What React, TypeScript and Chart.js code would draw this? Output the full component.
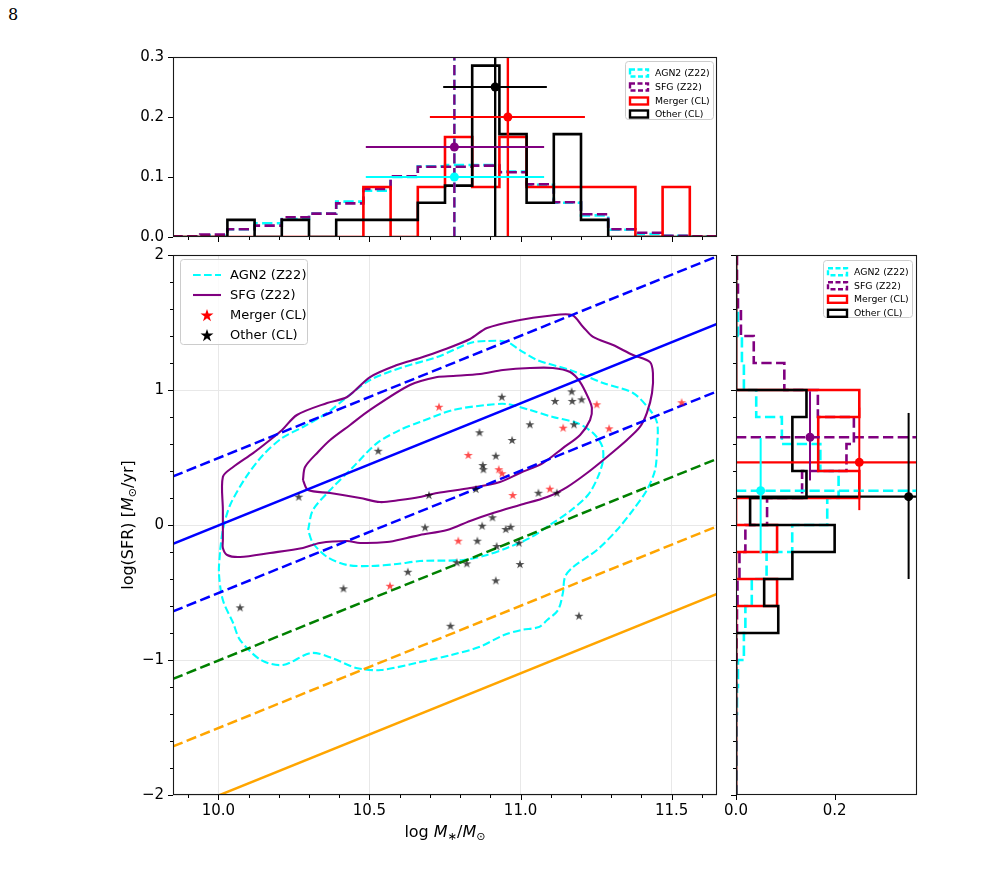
import React, { useEffect, useRef } from 'react';
import { Chart, registerables } from 'chart.js';
Chart.register(...registerables);

const FONT = '"DejaVu Sans", sans-serif';

// ---------- axes / ticks ----------
const massRange = [9.85, 11.65];
const sfrRange = [-2, 2];
const topFracRange = [0, 0.3];
const rightFracRange = [0, 0.367];
const massTicks = [10.0, 10.5, 11.0, 11.5];
const massTickLabels = ['10.0', '10.5', '11.0', '11.5'];
const massMinorTicks = [9.9, 10.1, 10.2, 10.3, 10.4, 10.6, 10.7, 10.8, 10.9, 11.1, 11.2, 11.3, 11.4, 11.6];
const sfrTicks = [-2, -1, 0, 1, 2];
const sfrTickLabels = ['\u22122', '\u22121', '0', '1', '2'];
const sfrMinorTicks = [-1.8, -1.6, -1.4, -1.2, -0.8, -0.6, -0.4, -0.2, 0.2, 0.4, 0.6, 0.8, 1.2, 1.4, 1.6, 1.8];
const topFracTicks = [0, 0.1, 0.2, 0.3];
const topFracTickLabels = ['0.0', '0.1', '0.2', '0.3'];
const rightFracTicks = [0, 0.2];
const rightFracTickLabels = ['0.0', '0.2'];

const seriesLabels = ['AGN2 (Z22)', 'SFG (Z22)', 'Merger (CL)', 'Other (CL)'];

// ---------- histograms ----------
const massBinEdges = [9.85, 9.94, 10.03, 10.12, 10.21, 10.3, 10.39, 10.48, 10.57, 10.66, 10.75, 10.84, 10.93, 11.02, 11.11, 11.2, 11.29, 11.38, 11.47, 11.56, 11.65];
const agnMassHist = [0.0005, 0.003, 0.013, 0.023, 0.03, 0.039, 0.059, 0.077, 0.1, 0.118, 0.12, 0.12, 0.109, 0.087, 0.057, 0.036, 0.012, 0.005, 0.002, 0.001];
const sfgMassHist = [0.001, 0.004, 0.013, 0.019, 0.033, 0.039, 0.056, 0.08, 0.101, 0.117, 0.117, 0.119, 0.108, 0.088, 0.058, 0.038, 0.013, 0.007, 0.002, 0.001];
const mergerMassHist = [0, 0, 0, 0, 0, 0, 0, 0.0833, 0, 0.0833, 0.1667, 0.0833, 0.1667, 0.0833, 0.0833, 0.0833, 0.0833, 0, 0.0833, 0];
const otherMassHist = [0, 0, 0.0286, 0, 0.0286, 0, 0.0286, 0.0286, 0.0286, 0.0571, 0.0857, 0.2857, 0.1714, 0.0571, 0.1714, 0.0286, 0, 0, 0, 0];

const sfrBinEdges = [-2.0, -1.8, -1.6, -1.4, -1.2, -1.0, -0.8, -0.6, -0.4, -0.2, 0.0, 0.2, 0.4, 0.6, 0.8, 1.0, 1.2, 1.4, 1.6, 1.8, 2.0];
const agnSfrHist = [0.001, 0.001, 0.001, 0.002, 0.004, 0.016, 0.019, 0.032, 0.062, 0.114, 0.185, 0.208, 0.171, 0.093, 0.041, 0.016, 0.012, 0.004, 0.002, 0.001];
const sfgSfrHist = [0, 0, 0, 0, 0, 0.001, 0.002, 0.003, 0.007, 0.019, 0.063, 0.134, 0.224, 0.239, 0.166, 0.098, 0.036, 0.01, 0.004, 0.002];
const mergerSfrHist = [0, 0, 0, 0, 0, 0, 0, 0.0833, 0, 0.0833, 0, 0.25, 0.1667, 0.1667, 0.25, 0, 0, 0, 0, 0];
const otherSfrHist = [0, 0, 0, 0, 0, 0, 0.0857, 0.0571, 0.1143, 0.2, 0.0286, 0.1429, 0.1143, 0.1143, 0.1429, 0, 0, 0, 0, 0];

// medians and ranges (AGN2, SFG, Merger, Other)
const massMedians = [10.781, 10.781, 10.958, 10.916];
const massLow = [10.488, 10.488, 10.70, 10.744];
const massHigh = [11.078, 11.078, 11.213, 11.087];
const topMarkerLevels = [0.1, 0.15, 0.2, 0.25];
const sfrMedians = [0.254, 0.65, 0.464, 0.21];
const sfrLow = [-0.21, 0.33, 0.11, -0.40];
const sfrHigh = [0.645, 0.99, 0.87, 0.83];
const rightMarkerLevels = [0.05, 0.15, 0.25, 0.35];

// ---------- scatter ----------
const mergerMass = [10.730, 11.252, 11.141, 11.293, 10.827, 10.928, 10.939, 10.974, 11.097, 10.794, 10.568, 11.533];
const mergerSfr = [0.876, 0.894, 0.721, 0.716, 0.519, 0.413, 0.383, 0.222, 0.269, -0.116, -0.450, 0.909];
const otherMass = [10.938, 11.169, 11.114, 11.171, 11.202, 11.031, 11.177, 10.864, 10.972, 10.918, 10.875, 10.877, 10.697, 10.852, 11.059, 11.120, 10.684, 10.873, 10.907, 10.951, 10.967, 10.857, 10.921, 10.995, 10.789, 10.822, 10.998, 10.918, 10.529, 10.266, 10.627, 10.414, 10.072, 11.193, 10.768];
const otherSfr = [0.950, 0.99, 0.919, 0.919, 0.931, 0.746, 0.746, 0.687, 0.630, 0.513, 0.444, 0.413, 0.222, 0.267, 0.239, 0.239, -0.017, -0.005, 0.057, -0.030, -0.013, -0.116, -0.156, -0.131, -0.276, -0.284, -0.289, -0.41, 0.550, 0.210, -0.346, -0.469, -0.610, -0.672, -0.746];

// ---------- contours ----------
const sfgOuterMass = [10.015, 10.015, 10.015, 10.049, 10.115, 10.171, 10.211, 10.260, 10.360, 10.426, 10.502, 10.591, 10.667, 10.743, 10.833, 10.889, 10.998, 11.088, 11.170, 11.207, 11.240, 11.306, 11.372, 11.428, 11.438, 11.435, 11.418, 11.395, 11.352, 11.286, 11.220, 11.154, 11.088, 10.998, 10.909, 10.833, 10.757, 10.667, 10.624, 10.558, 10.469, 10.426, 10.336, 10.280, 10.171, 10.072, 10.029, 10.015, 10.015];
const sfgOuterSfr = [-0.111, 0.111, 0.356, 0.430, 0.533, 0.630, 0.704, 0.815, 0.904, 0.948, 1.096, 1.185, 1.237, 1.296, 1.378, 1.459, 1.519, 1.548, 1.556, 1.467, 1.393, 1.333, 1.259, 1.207, 1.126, 0.978, 0.830, 0.726, 0.630, 0.504, 0.385, 0.281, 0.207, 0.148, 0.089, 0.030, -0.037, -0.074, -0.096, -0.126, -0.133, -0.119, -0.133, -0.170, -0.207, -0.237, -0.222, -0.170, -0.111];
const sfgInnerMass = [10.280, 10.287, 10.330, 10.370, 10.436, 10.502, 10.634, 10.724, 10.777, 10.866, 10.942, 11.031, 11.107, 11.164, 11.197, 11.223, 11.236, 11.230, 11.197, 11.140, 11.074, 10.998, 10.932, 10.833, 10.724, 10.667, 10.601, 10.535, 10.469, 10.370, 10.297, 10.280];
const sfgInnerSfr = [0.333, 0.430, 0.541, 0.630, 0.741, 0.852, 1.037, 1.096, 1.104, 1.119, 1.148, 1.163, 1.163, 1.133, 1.059, 0.948, 0.867, 0.778, 0.667, 0.570, 0.459, 0.385, 0.319, 0.274, 0.237, 0.207, 0.185, 0.170, 0.200, 0.237, 0.259, 0.333];
const agnOuterMass = [10.006, 10.015, 10.039, 10.092, 10.148, 10.211, 10.280, 10.360, 10.426, 10.502, 10.611, 10.724, 10.833, 10.889, 10.955, 10.998, 11.055, 11.164, 11.273, 11.372, 11.428, 11.452, 11.452, 11.445, 11.418, 11.372, 11.319, 11.253, 11.174, 11.147, 11.140, 11.124, 11.088, 11.061, 11.002, 10.945, 10.863, 10.770, 10.654, 10.538, 10.456, 10.376, 10.307, 10.214, 10.141, 10.072, 10.049, 10.015, 10.002, 10.006];
const agnOuterSfr = [-0.185, -0.037, 0.148, 0.356, 0.519, 0.644, 0.726, 0.830, 0.948, 1.074, 1.170, 1.244, 1.348, 1.363, 1.356, 1.296, 1.222, 1.148, 1.052, 0.978, 0.852, 0.756, 0.578, 0.407, 0.259, 0.111, -0.037, -0.185, -0.311, -0.385, -0.504, -0.630, -0.704, -0.756, -0.778, -0.815, -0.904, -0.963, -1.022, -1.074, -1.059, -0.985, -0.948, -1.037, -1.000, -0.852, -0.726, -0.556, -0.356, -0.185];
const agnInnerMass = [10.297, 10.313, 10.370, 10.446, 10.525, 10.601, 10.667, 10.777, 10.889, 10.955, 11.031, 11.107, 11.187, 11.240, 11.270, 11.273, 11.256, 11.223, 11.164, 11.097, 11.031, 10.955, 10.889, 10.810, 10.667, 10.591, 10.502, 10.426, 10.360, 10.313, 10.297];
const agnInnerSfr = [-0.037, 0.111, 0.259, 0.430, 0.607, 0.704, 0.763, 0.852, 0.889, 0.896, 0.852, 0.800, 0.756, 0.681, 0.585, 0.481, 0.356, 0.222, 0.104, 0.000, -0.096, -0.170, -0.222, -0.259, -0.267, -0.289, -0.304, -0.296, -0.237, -0.133, -0.037];

// ---------- reference lines (values at the two mass limits) ----------
const lineMassEnds = [9.85, 11.65];
const msSfr = [-0.14, 1.49];
const msUpperSfr = [0.36, 1.99];
const msLowerSfr = [-0.64, 0.99];
const greenSfr = [-1.14, 0.49];
const orangeDashSfr = [-1.64, -0.01];
const orangeSolidSfr = [-2.14, -0.51];

const CYAN = '#00ffff', PURPLE = '#800080', RED = '#ff0000', BLACK = '#000000';
const seriesColors = [CYAN, PURPLE, RED, BLACK];
const seriesDash = [[10.3, 4.4], [10.3, 4.4], [], []];

const pts = (xs: number[], ys: number[]) => xs.map((x, i) => ({ x, y: ys[i] }));

function stepTop(edges: number[], vals: number[]) {
  const out = [{ x: edges[0], y: 0 }];
  vals.forEach((v, i) => { out.push({ x: edges[i], y: v }); out.push({ x: edges[i + 1], y: v }); });
  out.push({ x: edges[edges.length - 1], y: 0 });
  return out;
}
function stepRight(edges: number[], vals: number[]) {
  const out = [{ x: 0, y: edges[0] }];
  vals.forEach((v, i) => { out.push({ x: v, y: edges[i] }); out.push({ x: v, y: edges[i + 1] }); });
  out.push({ x: 0, y: edges[edges.length - 1] });
  return out;
}

function makeStar(color: string, outer: number) {
  const inner = outer * 0.382;
  const size = Math.ceil(outer * 2 + 2);
  const c = document.createElement('canvas');
  c.width = size; c.height = size;
  const g = c.getContext('2d')!;
  const cx = size / 2, cy = size / 2 + outer * 0.1;
  g.beginPath();
  for (let i = 0; i < 10; i++) {
    const r = i % 2 === 0 ? outer : inner;
    const a = -Math.PI / 2 + (i * Math.PI) / 5;
    const px = cx + r * Math.cos(a), py = cy + r * Math.sin(a);
    if (i === 0) g.moveTo(px, py); else g.lineTo(px, py);
  }
  g.closePath();
  g.fillStyle = color;
  g.fill();
  return c;
}

type Seg = { t: string; it?: boolean; sub?: boolean };

function drawRich(ctx: CanvasRenderingContext2D, segs: Seg[], size: number, cx: number, cy: number, rotate: boolean) {
  const fontFor = (s: Seg) => `${s.it ? 'italic ' : ''}${s.sub ? size * 0.7 : size}px ${FONT}`;
  let total = 0;
  const widths = segs.map((s) => { ctx.font = fontFor(s); const w = ctx.measureText(s.t).width; total += w; return w; });
  ctx.save();
  ctx.translate(cx, cy);
  if (rotate) ctx.rotate(-Math.PI / 2);
  ctx.textBaseline = 'alphabetic';
  ctx.textAlign = 'left';
  ctx.fillStyle = '#000';
  let x = -total / 2;
  segs.forEach((s, i) => {
    ctx.font = fontFor(s);
    ctx.fillText(s.t, x, size * 0.36 + (s.sub ? size * 0.22 : 0));
    x += widths[i];
  });
  ctx.restore();
}

function roundRect(ctx: CanvasRenderingContext2D, x: number, y: number, w: number, h: number, r: number) {
  ctx.beginPath();
  ctx.moveTo(x + r, y);
  ctx.lineTo(x + w - r, y); ctx.arcTo(x + w, y, x + w, y + r, r);
  ctx.lineTo(x + w, y + h - r); ctx.arcTo(x + w, y + h, x + w - r, y + h, r);
  ctx.lineTo(x + r, y + h); ctx.arcTo(x, y + h, x, y + h - r, r);
  ctx.lineTo(x, y + r); ctx.arcTo(x, y, x + r, y, r);
  ctx.closePath();
}

function makePlugin(cfg: any) {
  return {
    id: 'mpl',
    afterDraw(chart: any) {
      const ctx: CanvasRenderingContext2D = chart.ctx;
      const a = chart.chartArea;
      const xs = chart.scales.x, ys = chart.scales.y;
      ctx.save();
      ctx.strokeStyle = '#000';
      ctx.lineWidth = 1;
      const tx = (vals: number[], len: number) => vals.forEach((v) => {
        const p = Math.round(xs.getPixelForValue(v)) + 0.5;
        ctx.beginPath(); ctx.moveTo(p, a.bottom); ctx.lineTo(p, a.bottom + len); ctx.stroke();
      });
      const ty = (vals: number[], len: number) => vals.forEach((v) => {
        const p = Math.round(ys.getPixelForValue(v)) + 0.5;
        ctx.beginPath(); ctx.moveTo(a.left, p); ctx.lineTo(a.left - len, p); ctx.stroke();
      });
      tx(cfg.xMajor || [], 5); tx(cfg.xMinor || [], 3);
      ty(cfg.yMajor || [], 5); ty(cfg.yMinor || [], 3);
      ctx.strokeStyle = '#1a1a1a';
      ctx.lineWidth = 1.1;
      ctx.strokeRect(Math.round(a.left) + 0.5, Math.round(a.top) + 0.5, Math.round(a.right - a.left) - 1, Math.round(a.bottom - a.top) - 1);

      // tick labels
      ctx.fillStyle = '#000';
      ctx.font = `15px ${FONT}`;
      if (cfg.xLabels) {
        ctx.textAlign = 'center';
        ctx.textBaseline = 'top';
        cfg.xLabels.vals.forEach((v: number, i: number) => ctx.fillText(cfg.xLabels.text[i], xs.getPixelForValue(v), a.bottom + 9));
      }
      if (cfg.yLabels) {
        ctx.textAlign = 'right';
        ctx.textBaseline = 'middle';
        cfg.yLabels.vals.forEach((v: number, i: number) => ctx.fillText(cfg.yLabels.text[i], a.left - 9, ys.getPixelForValue(v)));
      }

      const lg = cfg.legend;
      if (lg) {
        const x0 = lg.right ? a.right - lg.offX - lg.w : a.left + lg.offX;
        const y0 = a.top + lg.offY;
        roundRect(ctx, Math.round(x0) + 0.5, Math.round(y0) + 0.5, lg.w, lg.h, 3);
        ctx.fillStyle = 'rgba(255,255,255,0.8)';
        ctx.fill();
        ctx.strokeStyle = '#cccccc';
        ctx.lineWidth = 1;
        ctx.stroke();
        ctx.font = `${lg.fontSize}px ${FONT}`;
        ctx.textBaseline = 'middle';
        ctx.textAlign = 'left';
        lg.items.forEach((it: any, i: number) => {
          const cy = y0 + lg.rowY[i];
          ctx.setLineDash(it.dash || []);
          if (it.kind === 'line') {
            ctx.strokeStyle = it.color; ctx.lineWidth = it.lw;
            ctx.beginPath(); ctx.moveTo(x0 + lg.hx0, cy); ctx.lineTo(x0 + lg.hx1, cy); ctx.stroke();
          } else if (it.kind === 'patch') {
            ctx.strokeStyle = it.color; ctx.lineWidth = it.lw;
            ctx.strokeRect(x0 + lg.hx0, cy - lg.ph / 2, lg.hx1 - lg.hx0, lg.ph);
          } else if (it.kind === 'star') {
            const im = it.img;
            ctx.drawImage(im, x0 + (lg.hx0 + lg.hx1) / 2 - im.width / 2, cy - im.height / 2);
          }
          ctx.setLineDash([]);
          ctx.fillStyle = '#000';
          ctx.fillText(it.label, x0 + lg.tx, cy + 0.5);
        });
      }
      if (cfg.xTitle) drawRich(ctx, cfg.xTitle, 16, (a.left + a.right) / 2, a.bottom + cfg.xTitleOff, false);
      if (cfg.yTitle) drawRich(ctx, cfg.yTitle, 16, a.left - cfg.yTitleOff, (a.top + a.bottom) / 2, true);
      ctx.restore();
    },
  };
}

function lin(min: number, max: number, ticks: number[], fit: (s: any) => void, grid: boolean) {
  return {
    type: 'linear',
    min, max,
    afterBuildTicks: (s: any) => { s.ticks = ticks.map((v) => ({ value: v })); },
    afterFit: fit,
    ticks: { display: false },
    grid: { display: grid, color: '#e8e8e8', lineWidth: 1, drawTicks: false },
    border: { display: false },
  };
}

const lineDs = (data: any[], color: string, lw: number, dash: number[] = [], extra: any = {}) => ({
  data, showLine: true, borderColor: color, backgroundColor: color, borderWidth: lw, borderDash: dash,
  pointRadius: 0, pointHoverRadius: 0, fill: false, ...extra,
});

function withOrder(list: any[]) {
  const n = list.length;
  return list.map((d, i) => ({ ...d, order: n - i }));
}

export default function App() {
  const topRef = useRef<HTMLCanvasElement>(null);
  const mainRef = useRef<HTMLCanvasElement>(null);
  const rightRef = useRef<HTMLCanvasElement>(null);

  useEffect(() => {
    const charts: Chart[] = [];
    const starRed = makeStar('rgba(255,0,0,0.7)', 4.8);
    const starBlack = makeStar('rgba(0,0,0,0.7)', 4.8);
    const legStarRed = makeStar(RED, 6.8);
    const legStarBlack = makeStar(BLACK, 6.8);

    const baseOpts = (padding: any, scales: any) => ({
      responsive: false,
      animation: false,
      events: [],
      layout: { padding },
      plugins: { legend: { display: false }, tooltip: { enabled: false } },
      scales,
    });

    const patchItems = seriesLabels.map((l, i) => ({ kind: 'patch', label: l, color: seriesColors[i], lw: 2.4, dash: i < 2 ? [5, 2.5] : [] }));

    // ---- top histogram ----
    const topDs: any[] = [];
    [agnMassHist, sfgMassHist, mergerMassHist, otherMassHist].forEach((h, i) => {
      topDs.push(lineDs(stepTop(massBinEdges, h), seriesColors[i], 2.6, seriesDash[i]));
    });
    massMedians.forEach((m, i) => {
      topDs.push(lineDs([{ x: m, y: topFracRange[0] }, { x: m, y: topFracRange[1] }], seriesColors[i], 2.4, seriesDash[i]));
    });
    massMedians.forEach((m, i) => {
      topDs.push(lineDs([{ x: massLow[i], y: topMarkerLevels[i] }, { x: massHigh[i], y: topMarkerLevels[i] }], seriesColors[i], 2));
      topDs.push({ data: [{ x: m, y: topMarkerLevels[i] }], backgroundColor: seriesColors[i], borderWidth: 0, pointRadius: 4.5, pointStyle: 'circle' });
    });
    charts.push(new Chart(topRef.current!, {
      type: 'scatter',
      data: { datasets: withOrder(topDs) },
      options: baseOpts({ top: 12, right: 13, left: 0, bottom: 0 }, {
        x: lin(massRange[0], massRange[1], massTicks, (s: any) => { s.height = 8; }, false),
        y: lin(topFracRange[0], topFracRange[1], topFracTicks, (s: any) => { s.width = 73; }, false),
      }) as any,
      plugins: [makePlugin({
        xMajor: massTicks, xMinor: massMinorTicks, yMajor: topFracTicks,
        yLabels: { vals: topFracTicks, text: topFracTickLabels },
        legend: { right: true, offX: 4, offY: 4, w: 88, h: 58, rowY: [12, 26, 40, 53], hx0: 5, hx1: 23, ph: 7, tx: 30, fontSize: 9.3, items: patchItems },
      })],
    }));

    // ---- main panel ----
    const mainDs: any[] = [
      lineDs(pts(agnOuterMass, agnOuterSfr), CYAN, 2.1, [7.7, 3.3], { tension: 0.3 }),
      lineDs(pts(agnInnerMass, agnInnerSfr), CYAN, 2.1, [7.7, 3.3], { tension: 0.3 }),
      lineDs(pts(sfgOuterMass, sfgOuterSfr), PURPLE, 2.1, [], { tension: 0.3 }),
      lineDs(pts(sfgInnerMass, sfgInnerSfr), PURPLE, 2.1, [], { tension: 0.3 }),
      lineDs(pts(lineMassEnds, msSfr), '#0000ff', 2.5),
      lineDs(pts(lineMassEnds, msUpperSfr), '#0000ff', 2.5, [10.3, 4.4]),
      lineDs(pts(lineMassEnds, msLowerSfr), '#0000ff', 2.5, [10.3, 4.4]),
      lineDs(pts(lineMassEnds, greenSfr), '#008000', 2.5, [10.3, 4.4]),
      lineDs(pts(lineMassEnds, orangeDashSfr), '#ffa500', 2.5, [10.3, 4.4]),
      lineDs(pts(lineMassEnds, orangeSolidSfr), '#ffa500', 2.5),
      { data: pts(mergerMass, mergerSfr), pointStyle: starRed, pointRadius: 5, borderWidth: 0 },
      { data: pts(otherMass, otherSfr), pointStyle: starBlack, pointRadius: 5, borderWidth: 0 },
    ];
    charts.push(new Chart(mainRef.current!, {
      type: 'scatter',
      data: { datasets: withOrder(mainDs) },
      options: baseOpts({ top: 10, right: 13, left: 0, bottom: 0 }, {
        x: lin(massRange[0], massRange[1], massTicks, (s: any) => { s.height = 70; }, true),
        y: lin(sfrRange[0], sfrRange[1], sfrTicks, (s: any) => { s.width = 73; }, true),
      }) as any,
      plugins: [makePlugin({
        xMajor: massTicks, xMinor: massMinorTicks, yMajor: sfrTicks, yMinor: sfrMinorTicks,
        xLabels: { vals: massTicks, text: massTickLabels },
        yLabels: { vals: sfrTicks, text: sfrTickLabels },
        legend: {
          right: false, offX: 7, offY: 4, w: 127, h: 85, rowY: [16, 36, 56, 76], hx0: 13, hx1: 41, ph: 7, tx: 50, fontSize: 13,
          items: [
            { kind: 'line', label: seriesLabels[0], color: CYAN, lw: 2.1, dash: [7.7, 3.3] },
            { kind: 'line', label: seriesLabels[1], color: PURPLE, lw: 2.1 },
            { kind: 'star', label: seriesLabels[2], img: legStarRed },
            { kind: 'star', label: seriesLabels[3], img: legStarBlack },
          ],
        },
        xTitle: [{ t: 'log ' }, { t: 'M', it: true }, { t: '\u2217', sub: true }, { t: '/' }, { t: 'M', it: true }, { t: '\u2299', sub: true }],
        xTitleOff: 36,
        yTitle: [{ t: 'log(SFR) [' }, { t: 'M', it: true }, { t: '\u2299', sub: true }, { t: '/yr]' }],
        yTitleOff: 46,
      })],
    }));

    // ---- right histogram ----
    const rightDs: any[] = [];
    [agnSfrHist, sfgSfrHist, mergerSfrHist, otherSfrHist].forEach((h, i) => {
      rightDs.push(lineDs(stepRight(sfrBinEdges, h), seriesColors[i], 2.6, seriesDash[i]));
    });
    sfrMedians.forEach((m, i) => {
      rightDs.push(lineDs([{ x: rightFracRange[0], y: m }, { x: rightFracRange[1], y: m }], seriesColors[i], 2.4, seriesDash[i]));
    });
    sfrMedians.forEach((m, i) => {
      rightDs.push(lineDs([{ x: rightMarkerLevels[i], y: sfrLow[i] }, { x: rightMarkerLevels[i], y: sfrHigh[i] }], seriesColors[i], 2));
      rightDs.push({ data: [{ x: rightMarkerLevels[i], y: m }], backgroundColor: seriesColors[i], borderWidth: 0, pointRadius: 4.5, pointStyle: 'circle' });
    });
    charts.push(new Chart(rightRef.current!, {
      type: 'scatter',
      data: { datasets: withOrder(rightDs) },
      options: baseOpts({ top: 10, right: 78, left: 0, bottom: 0 }, {
        x: lin(rightFracRange[0], rightFracRange[1], rightFracTicks, (s: any) => { s.height = 70; }, false),
        y: lin(sfrRange[0], sfrRange[1], sfrTicks, (s: any) => { s.width = 11; }, false),
      }) as any,
      plugins: [makePlugin({
        xMajor: rightFracTicks, yMajor: sfrTicks, yMinor: sfrMinorTicks,
        xLabels: { vals: rightFracTicks, text: rightFracTickLabels },
        legend: { right: true, offX: 5, offY: 5, w: 89, h: 57, rowY: [11.7, 25.7, 39.3, 53.3], hx0: 5, hx1: 24, ph: 7, tx: 31, fontSize: 9.3, items: patchItems },
      })],
    }));

    return () => charts.forEach((c) => c.destroy());
  }, []);

  return (
    <div style={{ position: 'absolute', left: 0, top: 0, width: 998, height: 871, background: '#fff', overflow: 'hidden' }}>
      <div style={{ position: 'absolute', left: 8, top: 5, fontFamily: '"DejaVu Serif", "Liberation Serif", serif', fontSize: 16, lineHeight: '20px' }}>8</div>
      <canvas ref={topRef} width={630} height={200} style={{ position: 'absolute', left: 100, top: 45 }} />
      <canvas ref={mainRef} width={630} height={620} style={{ position: 'absolute', left: 100, top: 245 }} />
      <canvas ref={rightRef} width={270} height={620} style={{ position: 'absolute', left: 725, top: 245 }} />
    </div>
  );
}
